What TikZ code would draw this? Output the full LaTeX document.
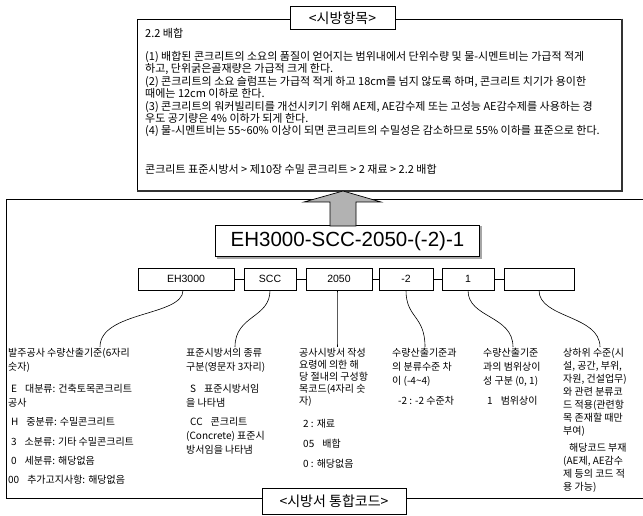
\documentclass[tikz,border=0pt]{standalone}
\usepackage{fontspec}
\setmainfont{Noto Sans CJK KR}
\newfontfamily\lat{Liberation Sans}
\begin{document}
\begin{tikzpicture}[x=1pt,y=-1pt,
  titlebox/.style={draw, fill=white, line width=0.8pt, inner sep=0pt, font=\fontsize{14}{16}\selectfont},
  codebox/.style={draw, line width=0.7pt, inner sep=0pt, minimum height=22pt, font=\lat\fontsize{10.5}{12}\selectfont},
  toptxt/.style={anchor=base west, inner sep=0pt, font=\fontsize{11}{12}\selectfont},
  coltxt/.style={anchor=base west, inner sep=0pt, font=\fontsize{10}{12}\selectfont},
  link/.style={line width=0.6pt},
  arrowfill/.style={draw, line width=0.7pt, fill=black!30}
]
\useasboundingbox (0,0) rectangle (643,516);
\fill[white] (0,0) rectangle (643,516);

% ---------- top box ----------
\node[draw, line width=0.6pt, minimum width=485pt, minimum height=172pt, inner sep=0pt] (top) at (379.5,105) {};
\draw[line width=2.2pt, black!80] (top.north east) -- (top.south east) -- (top.south west);
\node[titlebox, minimum width=105pt, minimum height=23pt] (t1) at (342.5,18) {<시방항목>};

\node[toptxt] (l0) at (145,38) {2.2 배합};
\node[toptxt] (l1) at (145,61) {(1) 배합된 콘크리트의 소요의 품질이 얻어지는 범위내에서 단위수량 및 물-시멘트비는 가급적 적게};
\node[toptxt] (l2) at (145,73) {하고, 단위굵은골재량은 가급적 크게 한다.};
\node[toptxt] (l3) at (145,86) {(2) 콘크리트의 소요 슬럼프는 가급적 적게 하고 18cm를 넘지 않도록 하며, 콘크리트 치기가 용이한};
\node[toptxt] (l4) at (145,98) {때에는 12cm 이하로 한다.};
\node[toptxt] (l5) at (145,111) {(3) 콘크리트의 워커빌리티를 개선시키기 위해 AE제, AE감수제 또는 고성능 AE감수제를 사용하는 경};
\node[toptxt] (l6) at (145,123) {우도 공기량은 4\% 이하가 되게 한다.};
\node[toptxt] (l7) at (145,135) {(4) 물-시멘트비는 55\textasciitilde 60\% 이상이 되면 콘크리트의 수밀성은 감소하므로 55\% 이하를 표준으로 한다.};
\node[toptxt] (l8) at (145,174) {콘크리트 표준시방서 > 제10장 수밀 콘크리트 > 2 재료 > 2.2 배합};

% ---------- bottom frame ----------
\draw[line width=0.7pt] (643,199) -- (6,199) -- (6,498) -- (643,498);

% ---------- main code ----------
\node[draw, line width=0.8pt, minimum width=264pt, minimum height=31pt, inner sep=0pt,
      font=\lat\fontsize{20.5}{24}\selectfont] (main) at (347.5,241) {EH3000-SCC-2050-(-2)-1};
\draw[line width=1.2pt, black!35] ([xshift=1.5pt,yshift=-1pt]main.south west) -- ([xshift=1pt,yshift=-1pt]main.south east) -- ([xshift=1pt,yshift=-1pt]main.north east);

% block arrow from main code to top box
\draw[arrowfill] (330,226) -- (330,202) -- (304,202) -- (343,191) -- (381,202) -- (356,202) -- (356,226) -- cycle;

% ---------- code parts ----------
\node[codebox, minimum width=96pt] (b1) at (186,279) {EH3000};
\node[codebox, minimum width=52pt] (b2) at (270,279) {SCC};
\node[codebox, minimum width=66pt] (b3) at (339,279) {2050};
\node[codebox, minimum width=54pt] (b4) at (406,279) {-2};
\node[codebox, minimum width=52pt] (b5) at (468,279) {1};
\node[codebox, minimum width=70pt] (b6) at (539,279) {};
\draw[link] (b1.east) -- (b2.west);
\draw[link] (b2.east) -- (b3.west);
\draw[link] (b3.east) -- (b4.west);
\draw[link] (b4.east) -- (b5.west);
\draw[link] (b5.east) -- (b6.west);

\coordinate (c1) at (100,347);
\coordinate (c2) at (235,347);
\coordinate (c3) at (337,347);
\coordinate (c4) at (425,347);
\coordinate (c5) at (513,347);
\coordinate (c6) at (600,347);
\draw[link] ([xshift=-3pt]b1.south) .. controls +(0,26) and +(0,-36) .. (c1);
\draw[link] (b2.south) .. controls +(0,28) and +(0,-32) .. (c2);
\draw[link] ([xshift=-2pt]b3.south) .. controls +(0,20) and +(0,-25) .. (c3);
\draw[link] (b4.south) .. controls +(0,28) and +(0,-32) .. (c4);
\draw[link] (b5.south) .. controls +(0,28) and +(0,-32) .. (c5);
\draw[link] (b6.south) .. controls +(0,28) and +(0,-32) .. (c6);

% ---------- column 1 ----------
\node[coltxt] (a1) at (8,356) {발주공사 수량산출기준(6자리};
\node[coltxt] (a2) at (8,370) {숫자)};
\node[coltxt] (a3) at (11,392) {E\hspace{8pt}대분류: 건축토목콘크리트};
\node[coltxt] (a4) at (8,406) {공사};
\node[coltxt] (a5) at (11,425) {H\hspace{8pt}중분류: 수밀콘크리트};
\node[coltxt] (a6) at (11,445) {3\hspace{8pt}소분류: 기타 수밀콘크리트};
\node[coltxt] (a7) at (11,464) {0\hspace{8pt}세분류: 해당없음};
\node[coltxt] (a8) at (8,483) {00\hspace{8pt}추가고지사항: 해당없음};

% ---------- column 2 ----------
\node[coltxt] (s1) at (186,356) {표준시방서의 종류};
\node[coltxt] (s2) at (186,370) {구분(영문자 3자리)};
\node[coltxt] (s3) at (190,392) {S\hspace{8pt}표준시방서임};
\node[coltxt] (s4) at (186,406) {을 나타냄};
\node[coltxt] (s5) at (190,425) {CC\hspace{8pt}콘크리트};
\node[coltxt] (s6) at (186,439) {(Concrete) 표준시};
\node[coltxt] (s7) at (186,453) {방서임을 나타냄};

% ---------- column 3 ----------
\node[coltxt] (d1) at (299,356) {공사시방서 작성};
\node[coltxt] (d2) at (299,368) {요령에 의한 해};
\node[coltxt] (d3) at (299,380) {당 절내의 구성항};
\node[coltxt] (d4) at (299,392) {목코드(4자리 숫};
\node[coltxt] (d5) at (299,404) {자)};
\node[coltxt] (d6) at (303,427) {2 : 재료};
\node[coltxt] (d7) at (303,447) {05\hspace{8pt}배합};
\node[coltxt] (d8) at (303,467) {0 : 해당없음};

% ---------- column 4 ----------
\node[coltxt] (e1) at (392,356) {수량산출기준과};
\node[coltxt] (e2) at (392,370) {의 분류수준 차};
\node[coltxt] (e3) at (392,384) {이 (-4\textasciitilde 4)};
\node[coltxt] (e4) at (398,404) {-2 : -2 수준차};

% ---------- column 5 ----------
\node[coltxt] (f1) at (483,356) {수량산출기준};
\node[coltxt] (f2) at (483,370) {과의 범위상이};
\node[coltxt] (f3) at (483,384) {성 구분 (0, 1)};
\node[coltxt] (f4) at (487,404) {1\hspace{8pt}범위상이};

% ---------- column 6 ----------
\node[coltxt] (g1) at (563,356) {상하위 수준(시};
\node[coltxt] (g2) at (563,369) {설, 공간, 부위,};
\node[coltxt] (g3) at (563,382) {자원, 건설업무)};
\node[coltxt] (g4) at (563,395) {와 관련 분류코};
\node[coltxt] (g5) at (563,408) {드 적용(관련항};
\node[coltxt] (g6) at (563,421) {목 존재할 때만};
\node[coltxt] (g7) at (563,434) {부여)};
\node[coltxt] (g8) at (569,451) {해당코드 부재};
\node[coltxt] (g9) at (563,464) {(AE제, AE감수};
\node[coltxt] (g10) at (563,477) {제 등의 코드 적};
\node[coltxt] (g11) at (563,490) {용 가능)};

% ---------- bottom title ----------
\node[titlebox, minimum width=144pt, minimum height=26pt] (t2) at (334,501) {<시방서 통합코드>};
\end{tikzpicture}
\end{document}
